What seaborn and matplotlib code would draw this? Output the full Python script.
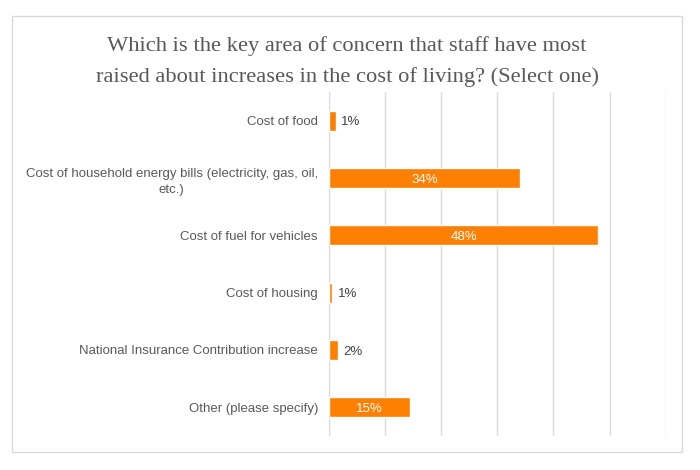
import matplotlib
matplotlib.use("Agg")
import matplotlib.pyplot as plt
import seaborn as sns
import pandas as pd
from matplotlib.patches import Rectangle

categories = [
    "Cost of food",
    "Cost of household energy bills (electricity, gas, oil,\netc.)",
    "Cost of fuel for vehicles",
    "Cost of housing",
    "National Insurance Contribution increase",
    "Other (please specify)",
]
values = [1.2, 34.0, 48.0, 0.6, 1.6, 14.5]
value_labels = ["1%", "34%", "48%", "1%", "2%", "15%"]
title = ("Which is the key area of concern that staff have most\n"
         "raised about increases in the cost of living? (Select one)")

sns.set_style("white")
plt.rcParams['font.family'] = ['Liberation Sans', 'DejaVu Sans']

df = pd.DataFrame({"category": categories, "value": values})

fig = plt.figure(figsize=(7, 4.7), dpi=100)
ax = fig.add_axes([329/700, 1-436/470, (665.7-329)/700, (436-92)/470])

sns.barplot(data=df, y="category", x="value", orient="h", color="#FF7F00",
            saturation=1, width=0.35, ax=ax)

ax.set_xlim(0, 60)
ax.set_xticks(range(0, 61, 10))
ax.xaxis.grid(True, color="#D9D9D9", linewidth=1)
ax.set_axisbelow(True)
ax.tick_params(axis="x", length=0, labelbottom=False)
ax.tick_params(axis="y", length=0, labelsize=9.5, labelcolor="#595959", pad=8)
for lbl in ax.get_yticklabels():
    lbl.set_multialignment("center")
    lbl.set_linespacing(1.45)
ax.set_xlabel("")
ax.set_ylabel("")
for s in ax.spines.values():
    s.set_visible(False)

for i, (v, t) in enumerate(zip(values, value_labels)):
    if v > 10:
        ax.text(v / 2, i + 0.03, t, ha="center", va="center", color="white", fontsize=9.5)
    else:
        ax.text(v + 1.0, i + 0.03, t, ha="left", va="center", color="#404040", fontsize=9.5)

fig.text(347/700, 1-61.5/470, title, ha="center", va="center", fontsize=16.2,
         color="#595959", family=["Liberation Serif", "DejaVu Serif"], linespacing=1.75)

fig.patches.append(Rectangle((12/700, 1-452/470), (682-12)/700, (452-16)/470,
                             transform=fig.transFigure, fill=False,
                             edgecolor="#D9D9D9", linewidth=1))

fig.savefig("out.png", dpi=100, facecolor="white")
